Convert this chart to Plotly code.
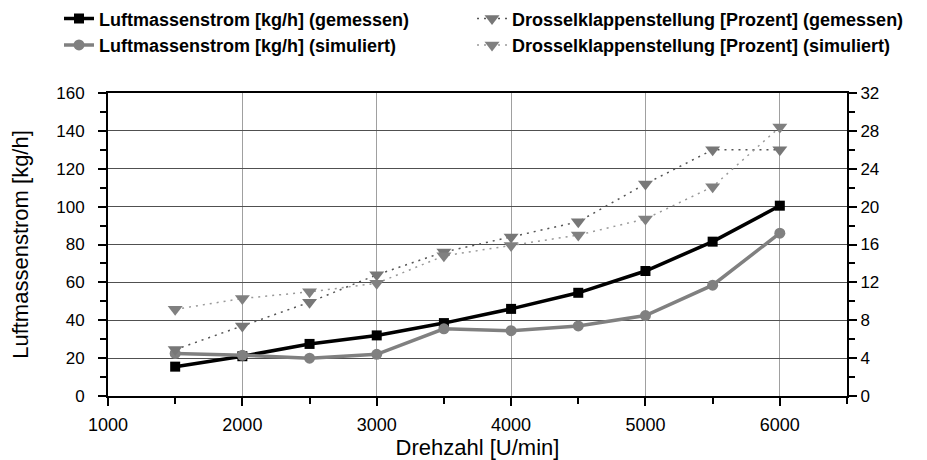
import plotly.graph_objects as go

drehzahl = [1500, 2000, 2500, 3000, 3500, 4000, 4500, 5000, 5500, 6000]
lms_gemessen = [15.5, 21, 27.5, 32, 38.5, 46, 54.5, 66, 81.5, 100.5]
lms_simuliert = [22.5, 21.5, 20, 22, 35.5, 34.5, 37, 42.5, 58.5, 86]
dk_gemessen = [4.9, 7.4, 9.9, 12.8, 15.2, 16.8, 18.4, 22.4, 26.0, 26.0]
dk_simuliert = [9.15, 10.3, 11.0, 11.9, 14.8, 15.9, 17.0, 18.7, 22.1, 28.4]

FONT = "Liberation Sans, Arial, sans-serif"
DOTS = "2px,5px"

fig = go.Figure()
fig.add_trace(go.Scatter(
    x=drehzahl, y=lms_gemessen, name="Luftmassenstrom [kg/h] (gemessen)",
    mode="lines+markers", line=dict(color="#000000", width=3.5),
    marker=dict(symbol="square", size=10, color="#000000"), legend="legend"))
fig.add_trace(go.Scatter(
    x=drehzahl, y=lms_simuliert, name="Luftmassenstrom [kg/h] (simuliert)",
    mode="lines+markers", line=dict(color="#808080", width=3.5),
    marker=dict(symbol="circle", size=11, color="#808080"), legend="legend"))
fig.add_trace(go.Scatter(
    x=drehzahl, y=dk_gemessen, name="Drosselklappenstellung [Prozent] (gemessen)",
    mode="lines+markers", yaxis="y2", line=dict(color="#555555", width=1.5, dash=DOTS),
    marker=dict(symbol="triangle-down", size=13, color="#777777"), legend="legend2"))
fig.add_trace(go.Scatter(
    x=drehzahl, y=dk_simuliert, name="Drosselklappenstellung [Prozent] (simuliert)",
    mode="lines+markers", yaxis="y2", line=dict(color="#999999", width=1.5, dash=DOTS),
    marker=dict(symbol="triangle-down", size=13, color="#808080"), legend="legend2"))

legfont = dict(family=FONT, size=18, color="#000000", weight="bold")
fig.update_layout(
    width=927, height=460,
    margin=dict(l=100, r=88, t=85, b=72, autoexpand=False),
    paper_bgcolor="white", plot_bgcolor="white",
    font=dict(family=FONT, color="#000000"),
    showlegend=True,
    legend=dict(orientation="v", xref="paper", yref="paper",
                x=-0.0663, y=1.306, xanchor="left", yanchor="top",
                traceorder="normal", font=legfont, bgcolor="rgba(0,0,0,0)", tracegroupgap=0),
    legend2=dict(orientation="v", xref="paper", yref="paper",
                 x=0.4926, y=1.306, xanchor="left", yanchor="top",
                 traceorder="normal", font=legfont, bgcolor="rgba(0,0,0,0)", tracegroupgap=0),
    xaxis=dict(range=[1000, 6500], tick0=1000, dtick=1000,
               showline=True, linecolor="#000000", linewidth=2, mirror=True,
               ticks="outside", ticklen=8, tickwidth=1.5, tickcolor="#000000",
               ticklabelstandoff=3,
               showgrid=True, gridcolor="#a0a0a0", gridwidth=1, zeroline=False,
               minor=dict(dtick=500, ticks="outside", ticklen=6, tickwidth=1.5,
                          tickcolor="#000000", showgrid=False),
               tickfont=dict(size=18, family=FONT),
               title=dict(text="Drehzahl [U/min]", font=dict(size=22, family=FONT), standoff=0)),
    yaxis=dict(range=[0, 160], tick0=0, dtick=20,
               showline=True, linecolor="#000000", linewidth=2,
               ticks="outside", ticklen=8, tickwidth=1.5, tickcolor="#000000",
               ticklabelstandoff=10,
               showgrid=True, gridcolor="#505050", gridwidth=1, zeroline=False,
               minor=dict(dtick=10, ticks="outside", ticklen=6, tickwidth=1.5,
                          tickcolor="#000000", showgrid=False),
               tickfont=dict(size=17, family=FONT),
               title=dict(text="Luftmassenstrom [kg/h]", font=dict(size=22, family=FONT), standoff=30)),
    yaxis2=dict(range=[0, 32], tick0=0, dtick=4, overlaying="y", side="right",
                showline=True, linecolor="#000000", linewidth=2,
                ticks="outside", ticklen=8, tickwidth=1.5, tickcolor="#000000",
                showgrid=False, zeroline=False,
                minor=dict(dtick=2, ticks="outside", ticklen=6, tickwidth=1.5,
                           tickcolor="#000000", showgrid=False),
                tickfont=dict(size=17, family=FONT)),
)

fig.write_html("out.html")
